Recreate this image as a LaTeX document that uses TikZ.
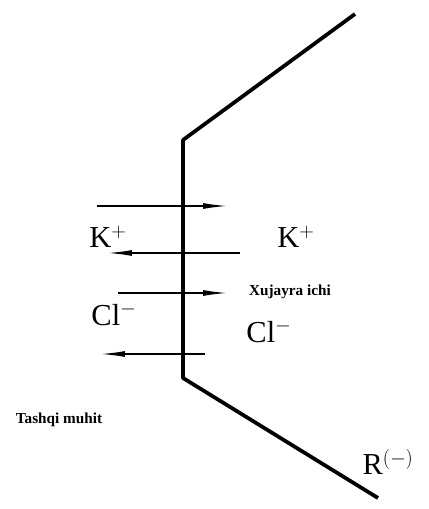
\documentclass[tikz,border=0pt]{standalone}
\usepackage{fontspec}
\setmainfont{Liberation Serif}
\usetikzlibrary{arrows.meta}

\begin{document}
\begin{tikzpicture}[
    x=0.03cm, y=-0.03cm,
    wall/.style={line width=3.2pt, line join=round},
    flux/.style={-{Latex[length=22pt, width=5pt]}, line width=1.6pt},
    ion/.style={font=\fontsize{26}{30}\selectfont, inner sep=0pt},
    side/.style={font=\fontsize{13}{15}\selectfont\bfseries, inner sep=0pt}
]
\useasboundingbox (0,0) rectangle (429,509);

% Membrane
\coordinate (top) at (355,14);
\coordinate (kneeA) at (183,140);
\coordinate (kneeB) at (183,378);
\coordinate (bot) at (378,498);
\draw[wall] (top) -- (kneeA) -- (kneeB) -- (bot);

% Ion flux ends
\coordinate (kinS) at (97,206);   \coordinate (kinE) at (229,206);
\coordinate (koutS) at (240,253); \coordinate (koutE) at (106,253);
\coordinate (clinS) at (118,293); \coordinate (clinE) at (229,293);
\coordinate (cloutS) at (205,354); \coordinate (cloutE) at (99,354);

\draw[flux] (kinS) -- (kinE);
\draw[flux] (koutS) -- (koutE);
\draw[flux] (clinS) -- (clinE);
\draw[flux] (cloutS) -- (cloutE);

% Labels
\node[ion] (kleft) at (108,237) {K$^{+}$};
\node[ion] (kright) at (296,237) {K$^{+}$};
\node[ion] (clleft) at (114,314) {Cl$^{-}$};
\node[ion] (clright) at (269,331) {Cl$^{-}$};
\node[ion] (rion) at (388,462) {R$^{(-)}$};
\node[side] (inside) at (290,292) {Xujayra ichi};
\node[side] (outside) at (59,420) {Tashqi muhit};
\end{tikzpicture}
\end{document}
